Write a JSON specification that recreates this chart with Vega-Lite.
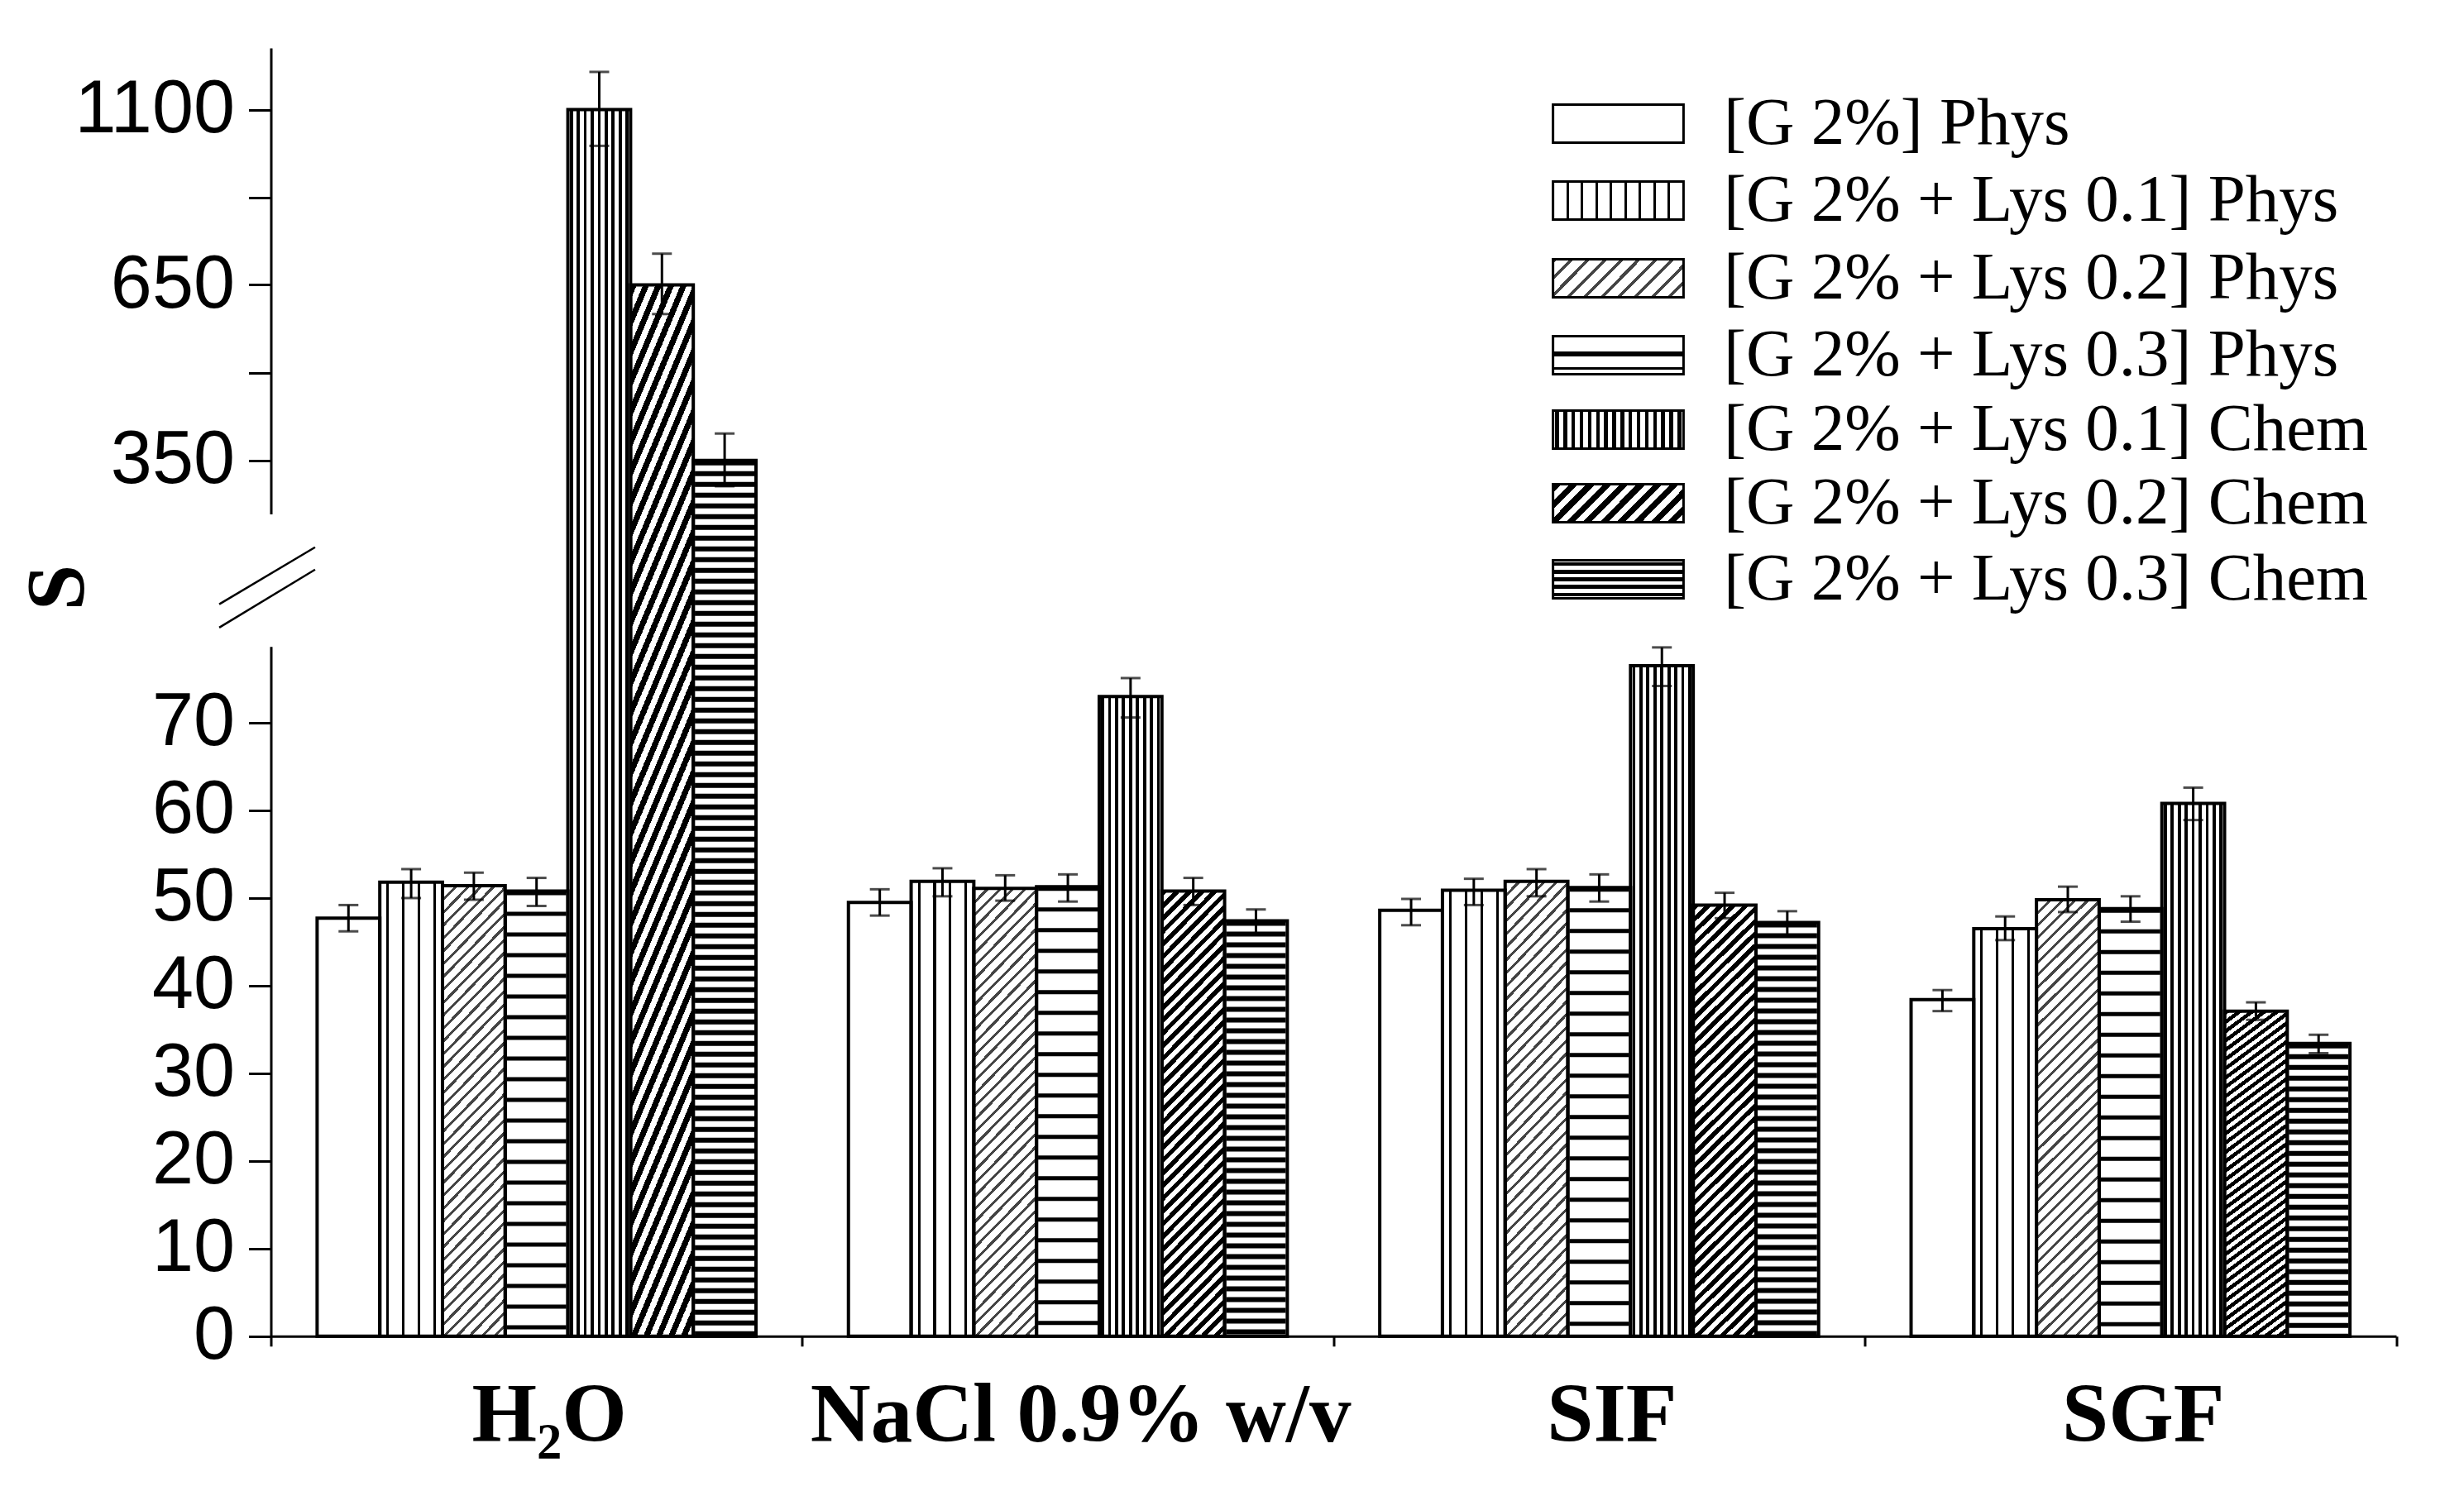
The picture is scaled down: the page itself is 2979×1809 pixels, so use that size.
{
"$schema": "https://vega.github.io/schema/vega-lite/v6.json",
"width": 2569.5,
"height": 1557.8,
"autosize": {"type": "none"},
"padding": {"left": 327.5, "top": 58, "right": 82, "bottom": 193.2},
"background": "white",
"config": {"view": {"stroke": null}, "legend": {"orient": "none", "title": null, "padding": 0, "labelFont": "Liberation Serif", "labelFontSize": 81, "labelColor": "black", "labelLimit": 2000, "labelOffset": 87, "symbolSize": 2116, "symbolStrokeWidth": 3, "symbolOpacity": 1}},
"data": {"values": [
{"solvent":"H₂O","series":"[G 2%] Phys","value":47.7,"lo":46.2,"hi":49.2},
{"solvent":"H₂O","series":"[G 2% + Lys 0.1] Phys","value":51.8,"lo":50.0,"hi":53.3},
{"solvent":"H₂O","series":"[G 2% + Lys 0.2] Phys","value":51.4,"lo":49.8,"hi":52.9},
{"solvent":"H₂O","series":"[G 2% + Lys 0.3] Phys","value":50.8,"lo":49.1,"hi":52.3},
{"solvent":"H₂O","series":"[G 2% + Lys 0.1] Chem","value":1100,"lo":1007,"hi":1197},
{"solvent":"H₂O","series":"[G 2% + Lys 0.2] Chem","value":650,"lo":600,"hi":730},
{"solvent":"H₂O","series":"[G 2% + Lys 0.3] Chem","value":350,"lo":306,"hi":396},
{"solvent":"NaCl 0.9% w/v","series":"[G 2%] Phys","value":49.5,"lo":48.0,"hi":51.0},
{"solvent":"NaCl 0.9% w/v","series":"[G 2% + Lys 0.1] Phys","value":51.9,"lo":50.2,"hi":53.4},
{"solvent":"NaCl 0.9% w/v","series":"[G 2% + Lys 0.2] Phys","value":51.1,"lo":49.7,"hi":52.6},
{"solvent":"NaCl 0.9% w/v","series":"[G 2% + Lys 0.3] Phys","value":51.3,"lo":49.6,"hi":52.7},
{"solvent":"NaCl 0.9% w/v","series":"[G 2% + Lys 0.1] Chem","value":73.0,"lo":70.6,"hi":75.1},
{"solvent":"NaCl 0.9% w/v","series":"[G 2% + Lys 0.2] Chem","value":50.8,"lo":49.2,"hi":52.3},
{"solvent":"NaCl 0.9% w/v","series":"[G 2% + Lys 0.3] Chem","value":47.4,"lo":45.9,"hi":48.7},
{"solvent":"SIF","series":"[G 2%] Phys","value":48.6,"lo":46.9,"hi":49.9},
{"solvent":"SIF","series":"[G 2% + Lys 0.1] Phys","value":50.9,"lo":49.2,"hi":52.2},
{"solvent":"SIF","series":"[G 2% + Lys 0.2] Phys","value":51.9,"lo":50.2,"hi":53.3},
{"solvent":"SIF","series":"[G 2% + Lys 0.3] Phys","value":51.2,"lo":49.6,"hi":52.7},
{"solvent":"SIF","series":"[G 2% + Lys 0.1] Chem","value":76.5,"lo":74.2,"hi":78.6},
{"solvent":"SIF","series":"[G 2% + Lys 0.2] Chem","value":49.2,"lo":47.7,"hi":50.6},
{"solvent":"SIF","series":"[G 2% + Lys 0.3] Chem","value":47.2,"lo":45.7,"hi":48.5},
{"solvent":"SGF","series":"[G 2%] Phys","value":38.4,"lo":37.1,"hi":39.5},
{"solvent":"SGF","series":"[G 2% + Lys 0.1] Phys","value":46.5,"lo":45.2,"hi":47.9},
{"solvent":"SGF","series":"[G 2% + Lys 0.2] Phys","value":49.8,"lo":48.4,"hi":51.3},
{"solvent":"SGF","series":"[G 2% + Lys 0.3] Phys","value":48.8,"lo":47.3,"hi":50.2},
{"solvent":"SGF","series":"[G 2% + Lys 0.1] Chem","value":60.8,"lo":58.9,"hi":62.6},
{"solvent":"SGF","series":"[G 2% + Lys 0.2] Chem","value":37.1,"lo":36.1,"hi":38.1},
{"solvent":"SGF","series":"[G 2% + Lys 0.3] Chem","value":33.4,"lo":32.3,"hi":34.4}
]},
"resolve": {"scale": {"x": "independent"}},
"layer": [
{
"encoding": {
"x": {"field": "solvent", "type": "nominal",
 "scale": {"domain": ["H₂O", "NaCl 0.9% w/v", "SIF", "SGF"], "paddingInner": 0, "paddingOuter": 0},
 "axis": {"title": null, "labelFont": "Liberation Serif", "labelFontWeight": "bold", "labelFontSize": 101, "labelAngle": 0, "labelPadding": 35, "labelOffset": 15, "labelColor": "black", "labelLimit": 2000, "tickBand": "extent", "tickSize": 12, "tickWidth": 3, "tickColor": "black", "domainColor": "black", "domainWidth": 3}},
"xOffset": {"field": "series", "type": "nominal", "scale": {"domain": ["[G 2%] Phys", "[G 2% + Lys 0.1] Phys", "[G 2% + Lys 0.2] Phys", "[G 2% + Lys 0.3] Phys", "[G 2% + Lys 0.1] Chem", "[G 2% + Lys 0.2] Chem", "[G 2% + Lys 0.3] Chem"], "paddingInner": 0, "paddingOuter": 0.7373}}
},
"resolve": {"scale": {"shape": "independent"}, "legend": {"shape": "independent"}},
"layer": [
{
"mark": {"type": "bar", "color": "#ffffff"},
"encoding": {
"y": {"field": "value", "type": "quantitative",
 "scale": {"type": "linear", "domain": [0, 78.7, 258.5, 350, 650, 1100, 1258.5], "range": [1557.8, 723.8, 563.6, 498.8, 286.4, 74.6, 0], "nice": false, "zero": false},
 "axis": {"title": "S", "values": [0, 10, 20, 30, 40, 50, 60, 70, 350, 500, 650, 875, 1100], "format": "d",
  "labelExpr": "(datum.value == 500 || datum.value == 875) ? '' : datum.label",
  "labelFont": "Liberation Sans", "labelFontSize": 90, "labelColor": "black", "labelPadding": 17, "labelOverlap": false, "labelFlush": false, "labelLimit": 2000,
  "tickSize": 27, "tickWidth": 3, "tickColor": "black", "domainColor": "black", "domainWidth": 3, "domainDash": [834, 160.2, 2000], "grid": false,
  "titleFont": "Liberation Serif", "titleFontSize": 100, "titleFontWeight": "bold", "titleColor": "black", "titleAngle": -90, "titleX": -228.5, "titleY": 652, "titleBaseline": "alphabetic", "titleAlign": "center"}}
}
},
{
"transform": [{"filter": "datum.series == '[G 2% + Lys 0.1] Phys'"}],
"mark": {"type": "bar", "fill": {"gradient":"linear","x1":0,"y1":0,"x2":1,"y2":0,"stops":[{"offset":0,"color":"#fff"},{"offset":0.105,"color":"#fff"},{"offset":0.105,"color":"#000"},{"offset":0.145,"color":"#000"},{"offset":0.145,"color":"#fff"},{"offset":0.355,"color":"#fff"},{"offset":0.355,"color":"#000"},{"offset":0.395,"color":"#000"},{"offset":0.395,"color":"#fff"},{"offset":0.605,"color":"#fff"},{"offset":0.605,"color":"#000"},{"offset":0.645,"color":"#000"},{"offset":0.645,"color":"#fff"},{"offset":0.855,"color":"#fff"},{"offset":0.855,"color":"#000"},{"offset":0.895,"color":"#000"},{"offset":0.895,"color":"#fff"},{"offset":1,"color":"#fff"}]}},
"encoding": {"y": {"field": "value", "type": "quantitative"}}
},
{
"transform": [{"filter": "datum.series == '[G 2% + Lys 0.2] Phys'"}],
"mark": {"type": "bar", "fill": {"gradient":"linear","x1":0,"y1":0,"x2":0.16,"y2":1.12,"stops":[
{"offset":0,"color":"#444"},{"offset":0.007,"color":"#444"},{"offset":0.007,"color":"#fff"},{"offset":0.025,"color":"#fff"},
{"offset":0.025,"color":"#444"},{"offset":0.032,"color":"#444"},{"offset":0.032,"color":"#fff"},{"offset":0.05,"color":"#fff"},
{"offset":0.05,"color":"#444"},{"offset":0.057,"color":"#444"},{"offset":0.057,"color":"#fff"},{"offset":0.075,"color":"#fff"},
{"offset":0.075,"color":"#444"},{"offset":0.082,"color":"#444"},{"offset":0.082,"color":"#fff"},{"offset":0.1,"color":"#fff"},
{"offset":0.1,"color":"#444"},{"offset":0.107,"color":"#444"},{"offset":0.107,"color":"#fff"},{"offset":0.125,"color":"#fff"},
{"offset":0.125,"color":"#444"},{"offset":0.132,"color":"#444"},{"offset":0.132,"color":"#fff"},{"offset":0.15,"color":"#fff"},
{"offset":0.15,"color":"#444"},{"offset":0.157,"color":"#444"},{"offset":0.157,"color":"#fff"},{"offset":0.175,"color":"#fff"},
{"offset":0.175,"color":"#444"},{"offset":0.182,"color":"#444"},{"offset":0.182,"color":"#fff"},{"offset":0.2,"color":"#fff"},
{"offset":0.2,"color":"#444"},{"offset":0.207,"color":"#444"},{"offset":0.207,"color":"#fff"},{"offset":0.225,"color":"#fff"},
{"offset":0.225,"color":"#444"},{"offset":0.232,"color":"#444"},{"offset":0.232,"color":"#fff"},{"offset":0.25,"color":"#fff"},
{"offset":0.25,"color":"#444"},{"offset":0.257,"color":"#444"},{"offset":0.257,"color":"#fff"},{"offset":0.275,"color":"#fff"},
{"offset":0.275,"color":"#444"},{"offset":0.282,"color":"#444"},{"offset":0.282,"color":"#fff"},{"offset":0.3,"color":"#fff"},
{"offset":0.3,"color":"#444"},{"offset":0.307,"color":"#444"},{"offset":0.307,"color":"#fff"},{"offset":0.325,"color":"#fff"},
{"offset":0.325,"color":"#444"},{"offset":0.332,"color":"#444"},{"offset":0.332,"color":"#fff"},{"offset":0.35,"color":"#fff"},
{"offset":0.35,"color":"#444"},{"offset":0.357,"color":"#444"},{"offset":0.357,"color":"#fff"},{"offset":0.375,"color":"#fff"},
{"offset":0.375,"color":"#444"},{"offset":0.382,"color":"#444"},{"offset":0.382,"color":"#fff"},{"offset":0.4,"color":"#fff"},
{"offset":0.4,"color":"#444"},{"offset":0.407,"color":"#444"},{"offset":0.407,"color":"#fff"},{"offset":0.425,"color":"#fff"},
{"offset":0.425,"color":"#444"},{"offset":0.432,"color":"#444"},{"offset":0.432,"color":"#fff"},{"offset":0.45,"color":"#fff"},
{"offset":0.45,"color":"#444"},{"offset":0.457,"color":"#444"},{"offset":0.457,"color":"#fff"},{"offset":0.475,"color":"#fff"},
{"offset":0.475,"color":"#444"},{"offset":0.482,"color":"#444"},{"offset":0.482,"color":"#fff"},{"offset":0.5,"color":"#fff"},
{"offset":0.5,"color":"#444"},{"offset":0.507,"color":"#444"},{"offset":0.507,"color":"#fff"},{"offset":0.525,"color":"#fff"},
{"offset":0.525,"color":"#444"},{"offset":0.532,"color":"#444"},{"offset":0.532,"color":"#fff"},{"offset":0.55,"color":"#fff"},
{"offset":0.55,"color":"#444"},{"offset":0.557,"color":"#444"},{"offset":0.557,"color":"#fff"},{"offset":0.575,"color":"#fff"},
{"offset":0.575,"color":"#444"},{"offset":0.582,"color":"#444"},{"offset":0.582,"color":"#fff"},{"offset":0.6,"color":"#fff"},
{"offset":0.6,"color":"#444"},{"offset":0.607,"color":"#444"},{"offset":0.607,"color":"#fff"},{"offset":0.625,"color":"#fff"},
{"offset":0.625,"color":"#444"},{"offset":0.632,"color":"#444"},{"offset":0.632,"color":"#fff"},{"offset":0.65,"color":"#fff"},
{"offset":0.65,"color":"#444"},{"offset":0.657,"color":"#444"},{"offset":0.657,"color":"#fff"},{"offset":0.675,"color":"#fff"},
{"offset":0.675,"color":"#444"},{"offset":0.682,"color":"#444"},{"offset":0.682,"color":"#fff"},{"offset":0.7,"color":"#fff"},
{"offset":0.7,"color":"#444"},{"offset":0.707,"color":"#444"},{"offset":0.707,"color":"#fff"},{"offset":0.725,"color":"#fff"},
{"offset":0.725,"color":"#444"},{"offset":0.732,"color":"#444"},{"offset":0.732,"color":"#fff"},{"offset":0.75,"color":"#fff"},
{"offset":0.75,"color":"#444"},{"offset":0.757,"color":"#444"},{"offset":0.757,"color":"#fff"},{"offset":0.775,"color":"#fff"},
{"offset":0.775,"color":"#444"},{"offset":0.782,"color":"#444"},{"offset":0.782,"color":"#fff"},{"offset":0.8,"color":"#fff"},
{"offset":0.8,"color":"#444"},{"offset":0.807,"color":"#444"},{"offset":0.807,"color":"#fff"},{"offset":0.825,"color":"#fff"},
{"offset":0.825,"color":"#444"},{"offset":0.832,"color":"#444"},{"offset":0.832,"color":"#fff"},{"offset":0.85,"color":"#fff"},
{"offset":0.85,"color":"#444"},{"offset":0.857,"color":"#444"},{"offset":0.857,"color":"#fff"},{"offset":0.875,"color":"#fff"},
{"offset":0.875,"color":"#444"},{"offset":0.882,"color":"#444"},{"offset":0.882,"color":"#fff"},{"offset":0.9,"color":"#fff"},
{"offset":0.9,"color":"#444"},{"offset":0.907,"color":"#444"},{"offset":0.907,"color":"#fff"},{"offset":0.925,"color":"#fff"},
{"offset":0.925,"color":"#444"},{"offset":0.932,"color":"#444"},{"offset":0.932,"color":"#fff"},{"offset":0.95,"color":"#fff"},
{"offset":0.95,"color":"#444"},{"offset":0.957,"color":"#444"},{"offset":0.957,"color":"#fff"},{"offset":0.975,"color":"#fff"},
{"offset":0.975,"color":"#444"},{"offset":0.982,"color":"#444"},{"offset":0.982,"color":"#fff"},{"offset":1,"color":"#fff"}]}},
"encoding": {"y": {"field": "value", "type": "quantitative"}}
},
{
"transform": [{"filter": "datum.series == '[G 2% + Lys 0.1] Chem'"}],
"mark": {"type": "bar", "fill": {"gradient":"linear","x1":0,"y1":0,"x2":1,"y2":0,"stops":[{"offset":0,"color":"#fff"},{"offset":0.03,"color":"#fff"},{"offset":0.03,"color":"#000"},{"offset":0.08,"color":"#000"},{"offset":0.08,"color":"#fff"},{"offset":0.141,"color":"#fff"},{"offset":0.141,"color":"#000"},{"offset":0.191,"color":"#000"},{"offset":0.191,"color":"#fff"},{"offset":0.252,"color":"#fff"},{"offset":0.252,"color":"#000"},{"offset":0.302,"color":"#000"},{"offset":0.302,"color":"#fff"},{"offset":0.363,"color":"#fff"},{"offset":0.363,"color":"#000"},{"offset":0.413,"color":"#000"},{"offset":0.413,"color":"#fff"},{"offset":0.474,"color":"#fff"},{"offset":0.474,"color":"#000"},{"offset":0.524,"color":"#000"},{"offset":0.524,"color":"#fff"},{"offset":0.586,"color":"#fff"},{"offset":0.586,"color":"#000"},{"offset":0.636,"color":"#000"},{"offset":0.636,"color":"#fff"},{"offset":0.697,"color":"#fff"},{"offset":0.697,"color":"#000"},{"offset":0.747,"color":"#000"},{"offset":0.747,"color":"#fff"},{"offset":0.808,"color":"#fff"},{"offset":0.808,"color":"#000"},{"offset":0.858,"color":"#000"},{"offset":0.858,"color":"#fff"},{"offset":0.919,"color":"#fff"},{"offset":0.919,"color":"#000"},{"offset":0.969,"color":"#000"},{"offset":0.969,"color":"#fff"},{"offset":1,"color":"#fff"}]}},
"encoding": {"y": {"field": "value", "type": "quantitative"}}
},
{
"transform": [{"filter": "datum.series == '[G 2% + Lys 0.2] Chem'"}],
"mark": {"type": "bar", "fill": {"gradient":"linear","x1":0,"y1":0,"x2":0.16,"y2":1.12,"stops":[
{"offset":0,"color":"#000"},{"offset":0.0125,"color":"#000"},{"offset":0.0125,"color":"#fff"},{"offset":0.025,"color":"#fff"},
{"offset":0.025,"color":"#000"},{"offset":0.0375,"color":"#000"},{"offset":0.0375,"color":"#fff"},{"offset":0.05,"color":"#fff"},
{"offset":0.05,"color":"#000"},{"offset":0.0625,"color":"#000"},{"offset":0.0625,"color":"#fff"},{"offset":0.075,"color":"#fff"},
{"offset":0.075,"color":"#000"},{"offset":0.0875,"color":"#000"},{"offset":0.0875,"color":"#fff"},{"offset":0.1,"color":"#fff"},
{"offset":0.1,"color":"#000"},{"offset":0.1125,"color":"#000"},{"offset":0.1125,"color":"#fff"},{"offset":0.125,"color":"#fff"},
{"offset":0.125,"color":"#000"},{"offset":0.1375,"color":"#000"},{"offset":0.1375,"color":"#fff"},{"offset":0.15,"color":"#fff"},
{"offset":0.15,"color":"#000"},{"offset":0.1625,"color":"#000"},{"offset":0.1625,"color":"#fff"},{"offset":0.175,"color":"#fff"},
{"offset":0.175,"color":"#000"},{"offset":0.1875,"color":"#000"},{"offset":0.1875,"color":"#fff"},{"offset":0.2,"color":"#fff"},
{"offset":0.2,"color":"#000"},{"offset":0.2125,"color":"#000"},{"offset":0.2125,"color":"#fff"},{"offset":0.225,"color":"#fff"},
{"offset":0.225,"color":"#000"},{"offset":0.2375,"color":"#000"},{"offset":0.2375,"color":"#fff"},{"offset":0.25,"color":"#fff"},
{"offset":0.25,"color":"#000"},{"offset":0.2625,"color":"#000"},{"offset":0.2625,"color":"#fff"},{"offset":0.275,"color":"#fff"},
{"offset":0.275,"color":"#000"},{"offset":0.2875,"color":"#000"},{"offset":0.2875,"color":"#fff"},{"offset":0.3,"color":"#fff"},
{"offset":0.3,"color":"#000"},{"offset":0.3125,"color":"#000"},{"offset":0.3125,"color":"#fff"},{"offset":0.325,"color":"#fff"},
{"offset":0.325,"color":"#000"},{"offset":0.3375,"color":"#000"},{"offset":0.3375,"color":"#fff"},{"offset":0.35,"color":"#fff"},
{"offset":0.35,"color":"#000"},{"offset":0.3625,"color":"#000"},{"offset":0.3625,"color":"#fff"},{"offset":0.375,"color":"#fff"},
{"offset":0.375,"color":"#000"},{"offset":0.3875,"color":"#000"},{"offset":0.3875,"color":"#fff"},{"offset":0.4,"color":"#fff"},
{"offset":0.4,"color":"#000"},{"offset":0.4125,"color":"#000"},{"offset":0.4125,"color":"#fff"},{"offset":0.425,"color":"#fff"},
{"offset":0.425,"color":"#000"},{"offset":0.4375,"color":"#000"},{"offset":0.4375,"color":"#fff"},{"offset":0.45,"color":"#fff"},
{"offset":0.45,"color":"#000"},{"offset":0.4625,"color":"#000"},{"offset":0.4625,"color":"#fff"},{"offset":0.475,"color":"#fff"},
{"offset":0.475,"color":"#000"},{"offset":0.4875,"color":"#000"},{"offset":0.4875,"color":"#fff"},{"offset":0.5,"color":"#fff"},
{"offset":0.5,"color":"#000"},{"offset":0.5125,"color":"#000"},{"offset":0.5125,"color":"#fff"},{"offset":0.525,"color":"#fff"},
{"offset":0.525,"color":"#000"},{"offset":0.5375,"color":"#000"},{"offset":0.5375,"color":"#fff"},{"offset":0.55,"color":"#fff"},
{"offset":0.55,"color":"#000"},{"offset":0.5625,"color":"#000"},{"offset":0.5625,"color":"#fff"},{"offset":0.575,"color":"#fff"},
{"offset":0.575,"color":"#000"},{"offset":0.5875,"color":"#000"},{"offset":0.5875,"color":"#fff"},{"offset":0.6,"color":"#fff"},
{"offset":0.6,"color":"#000"},{"offset":0.6125,"color":"#000"},{"offset":0.6125,"color":"#fff"},{"offset":0.625,"color":"#fff"},
{"offset":0.625,"color":"#000"},{"offset":0.6375,"color":"#000"},{"offset":0.6375,"color":"#fff"},{"offset":0.65,"color":"#fff"},
{"offset":0.65,"color":"#000"},{"offset":0.6625,"color":"#000"},{"offset":0.6625,"color":"#fff"},{"offset":0.675,"color":"#fff"},
{"offset":0.675,"color":"#000"},{"offset":0.6875,"color":"#000"},{"offset":0.6875,"color":"#fff"},{"offset":0.7,"color":"#fff"},
{"offset":0.7,"color":"#000"},{"offset":0.7125,"color":"#000"},{"offset":0.7125,"color":"#fff"},{"offset":0.725,"color":"#fff"},
{"offset":0.725,"color":"#000"},{"offset":0.7375,"color":"#000"},{"offset":0.7375,"color":"#fff"},{"offset":0.75,"color":"#fff"},
{"offset":0.75,"color":"#000"},{"offset":0.7625,"color":"#000"},{"offset":0.7625,"color":"#fff"},{"offset":0.775,"color":"#fff"},
{"offset":0.775,"color":"#000"},{"offset":0.7875,"color":"#000"},{"offset":0.7875,"color":"#fff"},{"offset":0.8,"color":"#fff"},
{"offset":0.8,"color":"#000"},{"offset":0.8125,"color":"#000"},{"offset":0.8125,"color":"#fff"},{"offset":0.825,"color":"#fff"},
{"offset":0.825,"color":"#000"},{"offset":0.8375,"color":"#000"},{"offset":0.8375,"color":"#fff"},{"offset":0.85,"color":"#fff"},
{"offset":0.85,"color":"#000"},{"offset":0.8625,"color":"#000"},{"offset":0.8625,"color":"#fff"},{"offset":0.875,"color":"#fff"},
{"offset":0.875,"color":"#000"},{"offset":0.8875,"color":"#000"},{"offset":0.8875,"color":"#fff"},{"offset":0.9,"color":"#fff"},
{"offset":0.9,"color":"#000"},{"offset":0.9125,"color":"#000"},{"offset":0.9125,"color":"#fff"},{"offset":0.925,"color":"#fff"},
{"offset":0.925,"color":"#000"},{"offset":0.9375,"color":"#000"},{"offset":0.9375,"color":"#fff"},{"offset":0.95,"color":"#fff"},
{"offset":0.95,"color":"#000"},{"offset":0.9625,"color":"#000"},{"offset":0.9625,"color":"#fff"},{"offset":0.975,"color":"#fff"},
{"offset":0.975,"color":"#000"},{"offset":0.9875,"color":"#000"},{"offset":0.9875,"color":"#fff"},{"offset":1,"color":"#fff"}]}},
"encoding": {"y": {"field": "value", "type": "quantitative"}}
},
{
"transform": [{"filter": "datum.series == '[G 2% + Lys 0.3] Phys' || datum.series == '[G 2% + Lys 0.3] Chem'"}],
"mark": {"type": "rule", "color": "black", "strokeWidth": 72},
"encoding": {
"y": {"field": "value", "type": "quantitative"},
"y2": {"datum": 0},
"strokeDash": {"field": "series", "type": "nominal", "legend": null, "scale": {"domain": ["[G 2% + Lys 0.3] Phys", "[G 2% + Lys 0.3] Chem"], "range": [[5, 20], [6, 7]]}}
}
},
{
"mark": {"type": "bar", "filled": false, "color": "black", "strokeWidth": 4},
"encoding": {"y": {"field": "value", "type": "quantitative"}}
},
{
"mark": {"type": "rule", "color": "black", "strokeWidth": 3},
"encoding": {"y": {"field": "lo", "type": "quantitative"}, "y2": {"field": "hi"}}
},
{
"mark": {"type": "tick", "color": "black", "thickness": 3, "size": 24, "orient": "horizontal"},
"encoding": {"y": {"field": "hi", "type": "quantitative"}}
},
{
"mark": {"type": "tick", "color": "black", "thickness": 3, "size": 24, "orient": "horizontal"},
"encoding": {"y": {"field": "lo", "type": "quantitative"}}
},
{
"transform": [{"filter": "datum.series == '[G 2%] Phys'"}],
"mark": {"type": "point", "filled": true, "opacity": 0, "fill": "#ffffff", "stroke": "black", "strokeWidth": 3},
"encoding": {"y": {"field": "value", "type": "quantitative"},
 "shape": {"field": "series", "type": "nominal", "scale": {"range": ["M-3.43,-1H3.43V1H-3.43Z"]}, "legend": {"legendX": 1588.5, "legendY": 51}}}
},
{
"transform": [{"filter": "datum.series == '[G 2% + Lys 0.1] Phys'"}],
"mark": {"type": "point", "filled": true, "opacity": 0, "stroke": "black", "strokeWidth": 3, "fill": {"gradient":"linear","x1":0,"y1":0,"x2":1,"y2":0,"stops":[{"offset":0,"color":"#fff"},{"offset":0.102,"color":"#fff"},{"offset":0.102,"color":"#000"},{"offset":0.12,"color":"#000"},{"offset":0.12,"color":"#fff"},{"offset":0.213,"color":"#fff"},{"offset":0.213,"color":"#000"},{"offset":0.231,"color":"#000"},{"offset":0.231,"color":"#fff"},{"offset":0.324,"color":"#fff"},{"offset":0.324,"color":"#000"},{"offset":0.342,"color":"#000"},{"offset":0.342,"color":"#fff"},{"offset":0.435,"color":"#fff"},{"offset":0.435,"color":"#000"},{"offset":0.453,"color":"#000"},{"offset":0.453,"color":"#fff"},{"offset":0.547,"color":"#fff"},{"offset":0.547,"color":"#000"},{"offset":0.565,"color":"#000"},{"offset":0.565,"color":"#fff"},{"offset":0.658,"color":"#fff"},{"offset":0.658,"color":"#000"},{"offset":0.676,"color":"#000"},{"offset":0.676,"color":"#fff"},{"offset":0.769,"color":"#fff"},{"offset":0.769,"color":"#000"},{"offset":0.787,"color":"#000"},{"offset":0.787,"color":"#fff"},{"offset":0.88,"color":"#fff"},{"offset":0.88,"color":"#000"},{"offset":0.898,"color":"#000"},{"offset":0.898,"color":"#fff"},{"offset":1,"color":"#fff"}]}},
"encoding": {"y": {"field": "value", "type": "quantitative"},
 "shape": {"field": "series", "type": "nominal", "scale": {"range": ["M-3.43,-1H3.43V1H-3.43Z"]}, "legend": {"legendX": 1588.5, "legendY": 144}}}
},
{
"transform": [{"filter": "datum.series == '[G 2% + Lys 0.2] Phys'"}],
"mark": {"type": "point", "filled": true, "opacity": 0, "stroke": "black", "strokeWidth": 3, "fill": {"gradient":"linear","x1":0,"y1":0,"x2":1.19,"y2":0.345,"stops":[{"offset":0,"color":"#444"},{"offset":0.025,"color":"#444"},{"offset":0.025,"color":"#fff"},{"offset":0.1,"color":"#fff"},{"offset":0.1,"color":"#444"},{"offset":0.125,"color":"#444"},{"offset":0.125,"color":"#fff"},{"offset":0.2,"color":"#fff"},{"offset":0.2,"color":"#444"},{"offset":0.225,"color":"#444"},{"offset":0.225,"color":"#fff"},{"offset":0.3,"color":"#fff"},{"offset":0.3,"color":"#444"},{"offset":0.325,"color":"#444"},{"offset":0.325,"color":"#fff"},{"offset":0.4,"color":"#fff"},{"offset":0.4,"color":"#444"},{"offset":0.425,"color":"#444"},{"offset":0.425,"color":"#fff"},{"offset":0.5,"color":"#fff"},{"offset":0.5,"color":"#444"},{"offset":0.525,"color":"#444"},{"offset":0.525,"color":"#fff"},{"offset":0.6,"color":"#fff"},{"offset":0.6,"color":"#444"},{"offset":0.625,"color":"#444"},{"offset":0.625,"color":"#fff"},{"offset":0.7,"color":"#fff"},{"offset":0.7,"color":"#444"},{"offset":0.725,"color":"#444"},{"offset":0.725,"color":"#fff"},{"offset":0.8,"color":"#fff"},{"offset":0.8,"color":"#444"},{"offset":0.825,"color":"#444"},{"offset":0.825,"color":"#fff"},{"offset":0.9,"color":"#fff"},{"offset":0.9,"color":"#444"},{"offset":0.925,"color":"#444"},{"offset":0.925,"color":"#fff"},{"offset":1,"color":"#fff"}]}},
"encoding": {"y": {"field": "value", "type": "quantitative"},
 "shape": {"field": "series", "type": "nominal", "scale": {"range": ["M-3.43,-1H3.43V1H-3.43Z"]}, "legend": {"legendX": 1588.5, "legendY": 238}}}
},
{
"transform": [{"filter": "datum.series == '[G 2% + Lys 0.3] Phys'"}],
"mark": {"type": "point", "filled": true, "opacity": 0, "stroke": "black", "strokeWidth": 3, "fill": {"gradient":"linear","x1":0,"y1":0,"x2":0,"y2":1,"stops":[{"offset":0,"color":"#fff"},{"offset":0.4,"color":"#fff"},{"offset":0.4,"color":"#000"},{"offset":0.54,"color":"#000"},{"offset":0.54,"color":"#fff"},{"offset":0.82,"color":"#fff"},{"offset":0.82,"color":"#000"},{"offset":0.88,"color":"#000"},{"offset":0.88,"color":"#fff"},{"offset":1,"color":"#fff"}]}},
"encoding": {"y": {"field": "value", "type": "quantitative"},
 "shape": {"field": "series", "type": "nominal", "scale": {"range": ["M-3.43,-1H3.43V1H-3.43Z"]}, "legend": {"legendX": 1588.5, "legendY": 331}}}
},
{
"transform": [{"filter": "datum.series == '[G 2% + Lys 0.1] Chem'"}],
"mark": {"type": "point", "filled": true, "opacity": 0, "stroke": "black", "strokeWidth": 3, "fill": {"gradient":"linear","x1":0,"y1":0,"x2":1,"y2":0,"stops":[{"offset":0,"color":"#fff"},{"offset":0.017,"color":"#fff"},{"offset":0.017,"color":"#000"},{"offset":0.045,"color":"#000"},{"offset":0.045,"color":"#fff"},{"offset":0.0795,"color":"#fff"},{"offset":0.0795,"color":"#000"},{"offset":0.1075,"color":"#000"},{"offset":0.1075,"color":"#fff"},{"offset":0.142,"color":"#fff"},{"offset":0.142,"color":"#000"},{"offset":0.17,"color":"#000"},{"offset":0.17,"color":"#fff"},{"offset":0.2045,"color":"#fff"},{"offset":0.2045,"color":"#000"},{"offset":0.2325,"color":"#000"},{"offset":0.2325,"color":"#fff"},{"offset":0.267,"color":"#fff"},{"offset":0.267,"color":"#000"},{"offset":0.295,"color":"#000"},{"offset":0.295,"color":"#fff"},{"offset":0.3295,"color":"#fff"},{"offset":0.3295,"color":"#000"},{"offset":0.3575,"color":"#000"},{"offset":0.3575,"color":"#fff"},{"offset":0.392,"color":"#fff"},{"offset":0.392,"color":"#000"},{"offset":0.42,"color":"#000"},{"offset":0.42,"color":"#fff"},{"offset":0.4545,"color":"#fff"},{"offset":0.4545,"color":"#000"},{"offset":0.4825,"color":"#000"},{"offset":0.4825,"color":"#fff"},{"offset":0.517,"color":"#fff"},{"offset":0.517,"color":"#000"},{"offset":0.545,"color":"#000"},{"offset":0.545,"color":"#fff"},{"offset":0.5795,"color":"#fff"},{"offset":0.5795,"color":"#000"},{"offset":0.6075,"color":"#000"},{"offset":0.6075,"color":"#fff"},{"offset":0.642,"color":"#fff"},{"offset":0.642,"color":"#000"},{"offset":0.67,"color":"#000"},{"offset":0.67,"color":"#fff"},{"offset":0.7045,"color":"#fff"},{"offset":0.7045,"color":"#000"},{"offset":0.7325,"color":"#000"},{"offset":0.7325,"color":"#fff"},{"offset":0.767,"color":"#fff"},{"offset":0.767,"color":"#000"},{"offset":0.795,"color":"#000"},{"offset":0.795,"color":"#fff"},{"offset":0.8295,"color":"#fff"},{"offset":0.8295,"color":"#000"},{"offset":0.8575,"color":"#000"},{"offset":0.8575,"color":"#fff"},{"offset":0.892,"color":"#fff"},{"offset":0.892,"color":"#000"},{"offset":0.92,"color":"#000"},{"offset":0.92,"color":"#fff"},{"offset":0.9545,"color":"#fff"},{"offset":0.9545,"color":"#000"},{"offset":0.9825,"color":"#000"},{"offset":0.9825,"color":"#fff"},{"offset":1,"color":"#fff"}]}},
"encoding": {"y": {"field": "value", "type": "quantitative"},
 "shape": {"field": "series", "type": "nominal", "scale": {"range": ["M-3.43,-1H3.43V1H-3.43Z"]}, "legend": {"legendX": 1588.5, "legendY": 421}}}
},
{
"transform": [{"filter": "datum.series == '[G 2% + Lys 0.2] Chem'"}],
"mark": {"type": "point", "filled": true, "opacity": 0, "stroke": "black", "strokeWidth": 3, "fill": {"gradient":"linear","x1":0,"y1":0,"x2":1.19,"y2":0.345,"stops":[{"offset":0,"color":"#000"},{"offset":0.05,"color":"#000"},{"offset":0.05,"color":"#fff"},{"offset":0.1,"color":"#fff"},{"offset":0.1,"color":"#000"},{"offset":0.15,"color":"#000"},{"offset":0.15,"color":"#fff"},{"offset":0.2,"color":"#fff"},{"offset":0.2,"color":"#000"},{"offset":0.25,"color":"#000"},{"offset":0.25,"color":"#fff"},{"offset":0.3,"color":"#fff"},{"offset":0.3,"color":"#000"},{"offset":0.35,"color":"#000"},{"offset":0.35,"color":"#fff"},{"offset":0.4,"color":"#fff"},{"offset":0.4,"color":"#000"},{"offset":0.45,"color":"#000"},{"offset":0.45,"color":"#fff"},{"offset":0.5,"color":"#fff"},{"offset":0.5,"color":"#000"},{"offset":0.55,"color":"#000"},{"offset":0.55,"color":"#fff"},{"offset":0.6,"color":"#fff"},{"offset":0.6,"color":"#000"},{"offset":0.65,"color":"#000"},{"offset":0.65,"color":"#fff"},{"offset":0.7,"color":"#fff"},{"offset":0.7,"color":"#000"},{"offset":0.75,"color":"#000"},{"offset":0.75,"color":"#fff"},{"offset":0.8,"color":"#fff"},{"offset":0.8,"color":"#000"},{"offset":0.85,"color":"#000"},{"offset":0.85,"color":"#fff"},{"offset":0.9,"color":"#fff"},{"offset":0.9,"color":"#000"},{"offset":0.95,"color":"#000"},{"offset":0.95,"color":"#fff"},{"offset":1,"color":"#fff"}]}},
"encoding": {"y": {"field": "value", "type": "quantitative"},
 "shape": {"field": "series", "type": "nominal", "scale": {"range": ["M-3.43,-1H3.43V1H-3.43Z"]}, "legend": {"legendX": 1588.5, "legendY": 510}}}
},
{
"transform": [{"filter": "datum.series == '[G 2% + Lys 0.3] Chem'"}],
"mark": {"type": "point", "filled": true, "opacity": 0, "stroke": "black", "strokeWidth": 3, "fill": {"gradient":"linear","x1":0,"y1":0,"x2":0,"y2":1,"stops":[{"offset":0,"color":"#fff"},{"offset":0.05,"color":"#fff"},{"offset":0.05,"color":"#000"},{"offset":0.15,"color":"#000"},{"offset":0.15,"color":"#fff"},{"offset":0.25,"color":"#fff"},{"offset":0.25,"color":"#000"},{"offset":0.35,"color":"#000"},{"offset":0.35,"color":"#fff"},{"offset":0.45,"color":"#fff"},{"offset":0.45,"color":"#000"},{"offset":0.55,"color":"#000"},{"offset":0.55,"color":"#fff"},{"offset":0.65,"color":"#fff"},{"offset":0.65,"color":"#000"},{"offset":0.75,"color":"#000"},{"offset":0.75,"color":"#fff"},{"offset":0.85,"color":"#fff"},{"offset":0.85,"color":"#000"},{"offset":0.95,"color":"#000"},{"offset":0.95,"color":"#fff"},{"offset":1,"color":"#fff"}]}},
"encoding": {"y": {"field": "value", "type": "quantitative"},
 "shape": {"field": "series", "type": "nominal", "scale": {"range": ["M-3.43,-1H3.43V1H-3.43Z"]}, "legend": {"legendX": 1588.5, "legendY": 602}}}
}
]
},
{
"transform": [{"aggregate": [{"op": "count", "as": "n"}]}],
"layer": [
{
"mark": {"type": "rule", "color": "black", "strokeWidth": 2.5},
"encoding": {
"x": {"datum": -0.0243, "type": "quantitative", "scale": {"domain": [0, 1]}, "axis": null},
"x2": {"datum": 0.0208},
"y": {"datum": 136.1, "type": "quantitative"},
"y2": {"datum": 213.4}
}
},
{
"mark": {"type": "rule", "color": "black", "strokeWidth": 2.5},
"encoding": {
"x": {"datum": -0.0243, "type": "quantitative", "scale": {"domain": [0, 1]}, "axis": null},
"x2": {"datum": 0.0208},
"y": {"datum": 104.5, "type": "quantitative"},
"y2": {"datum": 183.1}
}
}
]
}
]
}
